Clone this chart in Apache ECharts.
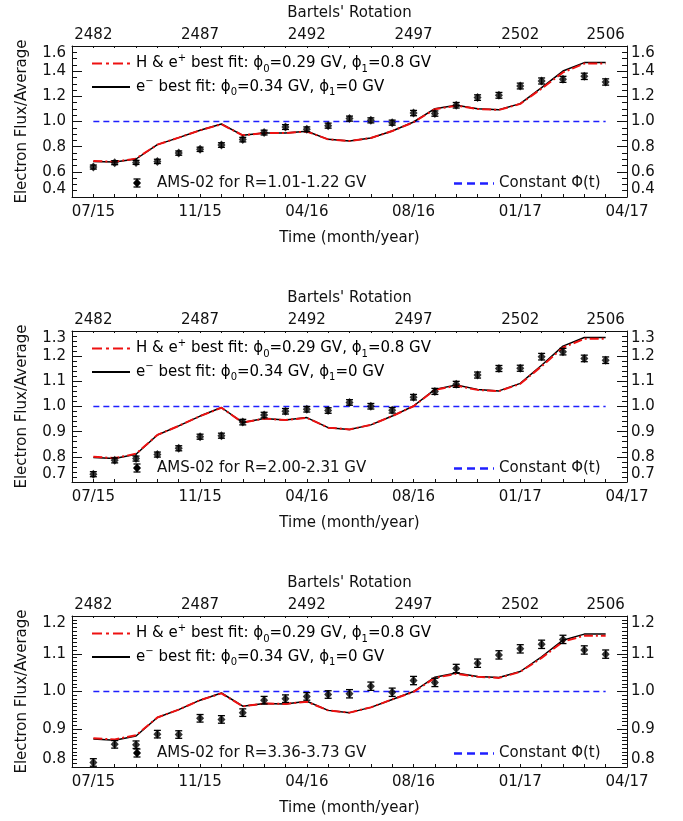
<!DOCTYPE html>
<html>
<head>
<meta charset="utf-8">
<script src="https://cdn.jsdelivr.net/npm/echarts@6/dist/echarts.min.js"></script>
<style>
html, body { margin: 0; padding: 0; background: #fff; }
#chart { width: 683px; height: 821px; }
</style>
</head>
<body>
<div id="chart"></div>
<script>
// Bartels' rotation numbers of the monthly points
const rotations = [2482, 2483, 2484, 2485, 2486, 2487, 2488, 2489, 2490, 2491, 2492, 2493, 2494,
  2495, 2496, 2497, 2498, 2499, 2500, 2501, 2502, 2503, 2504, 2505, 2506];
const rotationLabels = [2482, 2487, 2492, 2497, 2502, 2506];
const dateTicks = [2482, 2487, 2492, 2497, 2502, 2507];
const dateLabels = ['07/15', '11/15', '04/16', '08/16', '01/17', '04/17'];

// panel 1 : R = 1.01-1.22 GV
const flux1 = [0.638, 0.673, 0.675, 0.683, 0.749, 0.779, 0.813, 0.856, 0.912, 0.956, 0.938, 0.967, 1.023,
  1.009, 0.991, 1.067, 1.063, 1.129, 1.190, 1.208, 1.282, 1.322, 1.335, 1.359, 1.314];
const err1 = [0.016, 0.016, 0.016, 0.017, 0.017, 0.017, 0.018, 0.018, 0.019, 0.019, 0.019, 0.02, 0.02,
  0.02, 0.02, 0.021, 0.021, 0.022, 0.022, 0.023, 0.023, 0.024, 0.024, 0.025, 0.025];
const fitE1 = [0.683, 0.678, 0.702, 0.816, 0.872, 0.930, 0.980, 0.890, 0.908, 0.908, 0.922, 0.858, 0.845,
  0.869, 0.924, 0.996, 1.102, 1.129, 1.102, 1.094, 1.142, 1.269, 1.401, 1.468, 1.468];
const fitH1 = [0.686, 0.680, 0.705, 0.816, 0.872, 0.930, 0.978, 0.890, 0.908, 0.908, 0.920, 0.858, 0.845,
  0.869, 0.924, 0.994, 1.098, 1.126, 1.100, 1.092, 1.140, 1.262, 1.390, 1.460, 1.460];

// panel 2 : R = 2.00-2.31 GV
const flux2 = [0.731, 0.786, 0.793, 0.809, 0.834, 0.880, 0.884, 0.938, 0.966, 0.981, 0.989, 0.984, 1.016,
  1.001, 0.985, 1.037, 1.060, 1.088, 1.125, 1.151, 1.152, 1.198, 1.218, 1.191, 1.184];
const err2 = [0.01, 0.01, 0.01, 0.01, 0.01, 0.01, 0.01, 0.011, 0.011, 0.011, 0.011, 0.011, 0.011,
  0.011, 0.011, 0.011, 0.012, 0.012, 0.012, 0.012, 0.012, 0.013, 0.013, 0.013, 0.013];
const fitE2 = [0.797, 0.793, 0.810, 0.887, 0.923, 0.962, 0.996, 0.936, 0.952, 0.946, 0.956, 0.916, 0.909,
  0.927, 0.962, 1.002, 1.068, 1.085, 1.068, 1.062, 1.092, 1.164, 1.240, 1.274, 1.274];
const fitH2 = [0.800, 0.795, 0.812, 0.887, 0.923, 0.962, 0.995, 0.936, 0.952, 0.946, 0.955, 0.916, 0.909,
  0.927, 0.962, 1.001, 1.066, 1.083, 1.066, 1.061, 1.090, 1.160, 1.234, 1.269, 1.269];

// panel 3 : R = 3.36-3.73 GV
const flux3 = [0.812, 0.860, 0.859, 0.887, 0.886, 0.929, 0.926, 0.944, 0.977, 0.981, 0.987, 0.992, 0.994,
  1.014, 0.998, 1.029, 1.024, 1.061, 1.075, 1.097, 1.113, 1.125, 1.138, 1.110, 1.099];
const err3 = [0.01, 0.01, 0.01, 0.01, 0.01, 0.01, 0.01, 0.01, 0.01, 0.01, 0.01, 0.01, 0.011,
  0.011, 0.011, 0.011, 0.011, 0.011, 0.011, 0.011, 0.011, 0.011, 0.011, 0.011, 0.011];
const fitE3 = [0.874, 0.871, 0.882, 0.931, 0.952, 0.977, 0.996, 0.961, 0.968, 0.967, 0.974, 0.950, 0.944,
  0.958, 0.979, 1.000, 1.038, 1.049, 1.040, 1.037, 1.053, 1.092, 1.136, 1.152, 1.152];
const fitH3 = [0.876, 0.873, 0.884, 0.931, 0.952, 0.977, 0.995, 0.961, 0.968, 0.967, 0.973, 0.950, 0.944,
  0.958, 0.979, 0.999, 1.036, 1.047, 1.039, 1.036, 1.052, 1.089, 1.132, 1.148, 1.148];

const constantLevel = [1, 1];

const panels = [
  { flux: flux1, err: err1, fitE: fitE1, fitH: fitH1, yMin: 0.4, yMax: 1.6, step: 0.2, minor: 4, range: '1.01-1.22', top: 46 },
  { flux: flux2, err: err2, fitE: fitE2, fitH: fitH2, yMin: 0.7, yMax: 1.3, step: 0.1, minor: 5, range: '2.00-2.31', top: 331 },
  { flux: flux3, err: err3, fitE: fitE3, fitH: fitH3, yMin: 0.8, yMax: 1.2, step: 0.1, minor: 10, range: '3.36-3.73', top: 616 }
];

const font = 'DejaVu Sans';
const fs = 15;
const ink = '#111';
const red = '#ee1111';
const blue = '#1f1fff';

const chart = echarts.init(document.getElementById('chart'));

const grids = [], xAxes = [], yAxes = [], series = [], graphics = [];

panels.forEach(function (p, k) {
  grids.push({ left: 72, right: 56, top: p.top, height: 151 });
  const lineAxis = { show: true, lineStyle: { color: ink, width: 1 } };
  // bottom: time axis
  xAxes.push({
    type: 'value', gridIndex: k, position: 'bottom', min: 2481, max: 2507,
    axisLine: lineAxis,
    axisTick: { inside: true, length: 3, customValues: rotations, lineStyle: { color: ink } },
    axisLabel: {
      customValues: dateTicks, margin: 8, color: ink, fontFamily: font, fontSize: fs,
      formatter: function (v) { return dateLabels[dateTicks.indexOf(Math.round(v))]; }
    },
    splitLine: { show: false },
    name: 'Time (month/year)', nameLocation: 'middle', nameGap: 34,
    nameTextStyle: { color: ink, fontFamily: font, fontSize: fs }
  });
  // top: Bartels' rotation
  xAxes.push({
    type: 'value', gridIndex: k, position: 'top', min: 2481, max: 2507,
    axisLine: lineAxis,
    axisTick: { inside: true, length: 2, customValues: rotations, lineStyle: { color: ink } },
    axisLabel: {
      customValues: rotationLabels, margin: 3, color: ink, fontFamily: font, fontSize: fs,
      formatter: function (v) { return String(Math.round(v)); }
    },
    splitLine: { show: false },
    name: "Bartels' Rotation", nameLocation: 'middle', nameGap: 25,
    nameTextStyle: { color: ink, fontFamily: font, fontSize: fs }
  });
  const yBase = {
    type: 'value', gridIndex: k, min: p.yMin, max: p.yMax, interval: p.step,
    axisLine: lineAxis,
    axisTick: { inside: true, length: 10, lineStyle: { color: ink } },
    minorTick: { show: true, splitNumber: p.minor, length: 5, lineStyle: { color: ink } },
    splitLine: { show: false },
    minorSplitLine: { show: false }
  };
  yAxes.push(Object.assign({}, yBase, {
    position: 'left',
    axisLabel: { margin: 6, color: ink, fontFamily: font, fontSize: fs,
      verticalAlignMinLabel: 'bottom', verticalAlignMaxLabel: 'top',
      formatter: function (v) { return v.toFixed(1); } },
    name: 'Electron Flux/Average', nameLocation: 'middle', nameGap: 42,
    nameTextStyle: { color: ink, fontFamily: font, fontSize: fs }
  }));
  yAxes.push(Object.assign({}, yBase, {
    position: 'right',
    axisLabel: { margin: 4, color: ink, fontFamily: font, fontSize: fs,
      verticalAlignMinLabel: 'bottom', verticalAlignMaxLabel: 'top',
      formatter: function (v) { return v.toFixed(1); } }
  }));

  const xi = 2 * k, yi = 2 * k;
  series.push({
    type: 'line', xAxisIndex: xi, yAxisIndex: yi, showSymbol: false, silent: true,
    data: [[rotations[0], constantLevel[0]], [rotations[rotations.length - 1], constantLevel[1]]],
    lineStyle: { color: blue, width: 1.5, type: [6, 4], opacity: 1 },
    itemStyle: { color: blue }, z: 2
  });
  series.push({
    type: 'line', xAxisIndex: xi, yAxisIndex: yi, showSymbol: false, silent: true,
    data: rotations.map(function (r, i) { return [r, p.fitE[i]]; }),
    lineStyle: { color: '#000', width: 1.5 }, z: 3
  });
  series.push({
    type: 'line', xAxisIndex: xi, yAxisIndex: yi, showSymbol: false, silent: true,
    data: rotations.map(function (r, i) { return [r, p.fitH[i]]; }),
    lineStyle: { color: red, width: 2, type: [9, 3, 2, 3] }, z: 4
  });
  series.push({
    type: 'custom', xAxisIndex: xi, yAxisIndex: yi, silent: true,
    data: rotations.map(function (r, i) { return [r, p.flux[i] - p.err[i], p.flux[i] + p.err[i]]; }),
    encode: { x: 0, y: [1, 2] },
    renderItem: function (params, api) {
      const lo = api.coord([api.value(0), api.value(1)]);
      const hi = api.coord([api.value(0), api.value(2)]);
      const w = 3.5;
      const st = { stroke: '#000', lineWidth: 1.3 };
      return { type: 'group', children: [
        { type: 'line', shape: { x1: lo[0], y1: lo[1], x2: hi[0], y2: hi[1] }, style: st },
        { type: 'line', shape: { x1: lo[0] - w, y1: lo[1], x2: lo[0] + w, y2: lo[1] }, style: st },
        { type: 'line', shape: { x1: hi[0] - w, y1: hi[1], x2: hi[0] + w, y2: hi[1] }, style: st }
      ] };
    },
    z: 5
  });
  series.push({
    type: 'scatter', xAxisIndex: xi, yAxisIndex: yi, silent: true,
    symbol: 'diamond', symbolSize: [8, 9],
    itemStyle: { color: '#000' },
    data: rotations.map(function (r, i) { return [r, p.flux[i]]; }), z: 6
  });

  // legend
  const t = p.top;
  const rich = {
    t: { fontFamily: font, fontSize: fs, color: ink, lineHeight: 21 },
    sup: { fontFamily: font, fontSize: 10, color: ink, lineHeight: 13, verticalAlign: 'top' },
    sub: { fontFamily: font, fontSize: 10, color: ink, lineHeight: 13, verticalAlign: 'bottom' }
  };
  graphics.push(
    { type: 'line', shape: { x1: 92, y1: t + 17.5, x2: 130, y2: t + 17.5 },
      style: { stroke: red, lineWidth: 2, lineDash: [10, 4, 3, 4] } },
    { type: 'text', x: 136, y: t + 17.5, style: {
      text: '{t|H & e}{sup|+}{t| best fit: ϕ}{sub|0}{t|=0.29 GV, ϕ}{sub|1}{t|=0.8 GV}',
      rich: rich, verticalAlign: 'middle', align: 'left' } },
    { type: 'line', shape: { x1: 92, y1: t + 41, x2: 130, y2: t + 41 },
      style: { stroke: '#000', lineWidth: 2 } },
    { type: 'text', x: 136, y: t + 41, style: {
      text: '{t|e}{sup|−}{t| best fit: ϕ}{sub|0}{t|=0.34 GV, ϕ}{sub|1}{t|=0 GV}',
      rich: rich, verticalAlign: 'middle', align: 'left' } },
    { type: 'polygon', shape: { points: [[137, t + 132.5], [141, t + 137], [137, t + 141.5], [133, t + 137]] },
      style: { fill: '#000' } },
    { type: 'line', shape: { x1: 137, y1: t + 133, x2: 137, y2: t + 141 }, style: { stroke: '#000', lineWidth: 1.3 } },
    { type: 'line', shape: { x1: 133.5, y1: t + 133, x2: 140.5, y2: t + 133 }, style: { stroke: '#000', lineWidth: 1.3 } },
    { type: 'line', shape: { x1: 133.5, y1: t + 141, x2: 140.5, y2: t + 141 }, style: { stroke: '#000', lineWidth: 1.3 } },
    { type: 'text', x: 157, y: t + 137.5, style: {
      text: 'AMS-02 for R=' + p.range + ' GV', fontFamily: font, fontSize: fs, fill: ink,
      verticalAlign: 'middle', align: 'left' } },
    { type: 'line', shape: { x1: 454, y1: t + 137.5, x2: 494, y2: t + 137.5 },
      style: { stroke: blue, lineWidth: 2.5, lineDash: [8, 5] } },
    { type: 'text', x: 499, y: t + 137.5, style: {
      text: 'Constant Φ(t)', fontFamily: font, fontSize: fs, fill: ink,
      verticalAlign: 'middle', align: 'left' } }
  );
});

chart.setOption({
  animation: false,
  backgroundColor: '#fff',
  grid: grids,
  xAxis: xAxes,
  yAxis: yAxes,
  series: series,
  graphic: graphics
});
</script>
</body>
</html>
